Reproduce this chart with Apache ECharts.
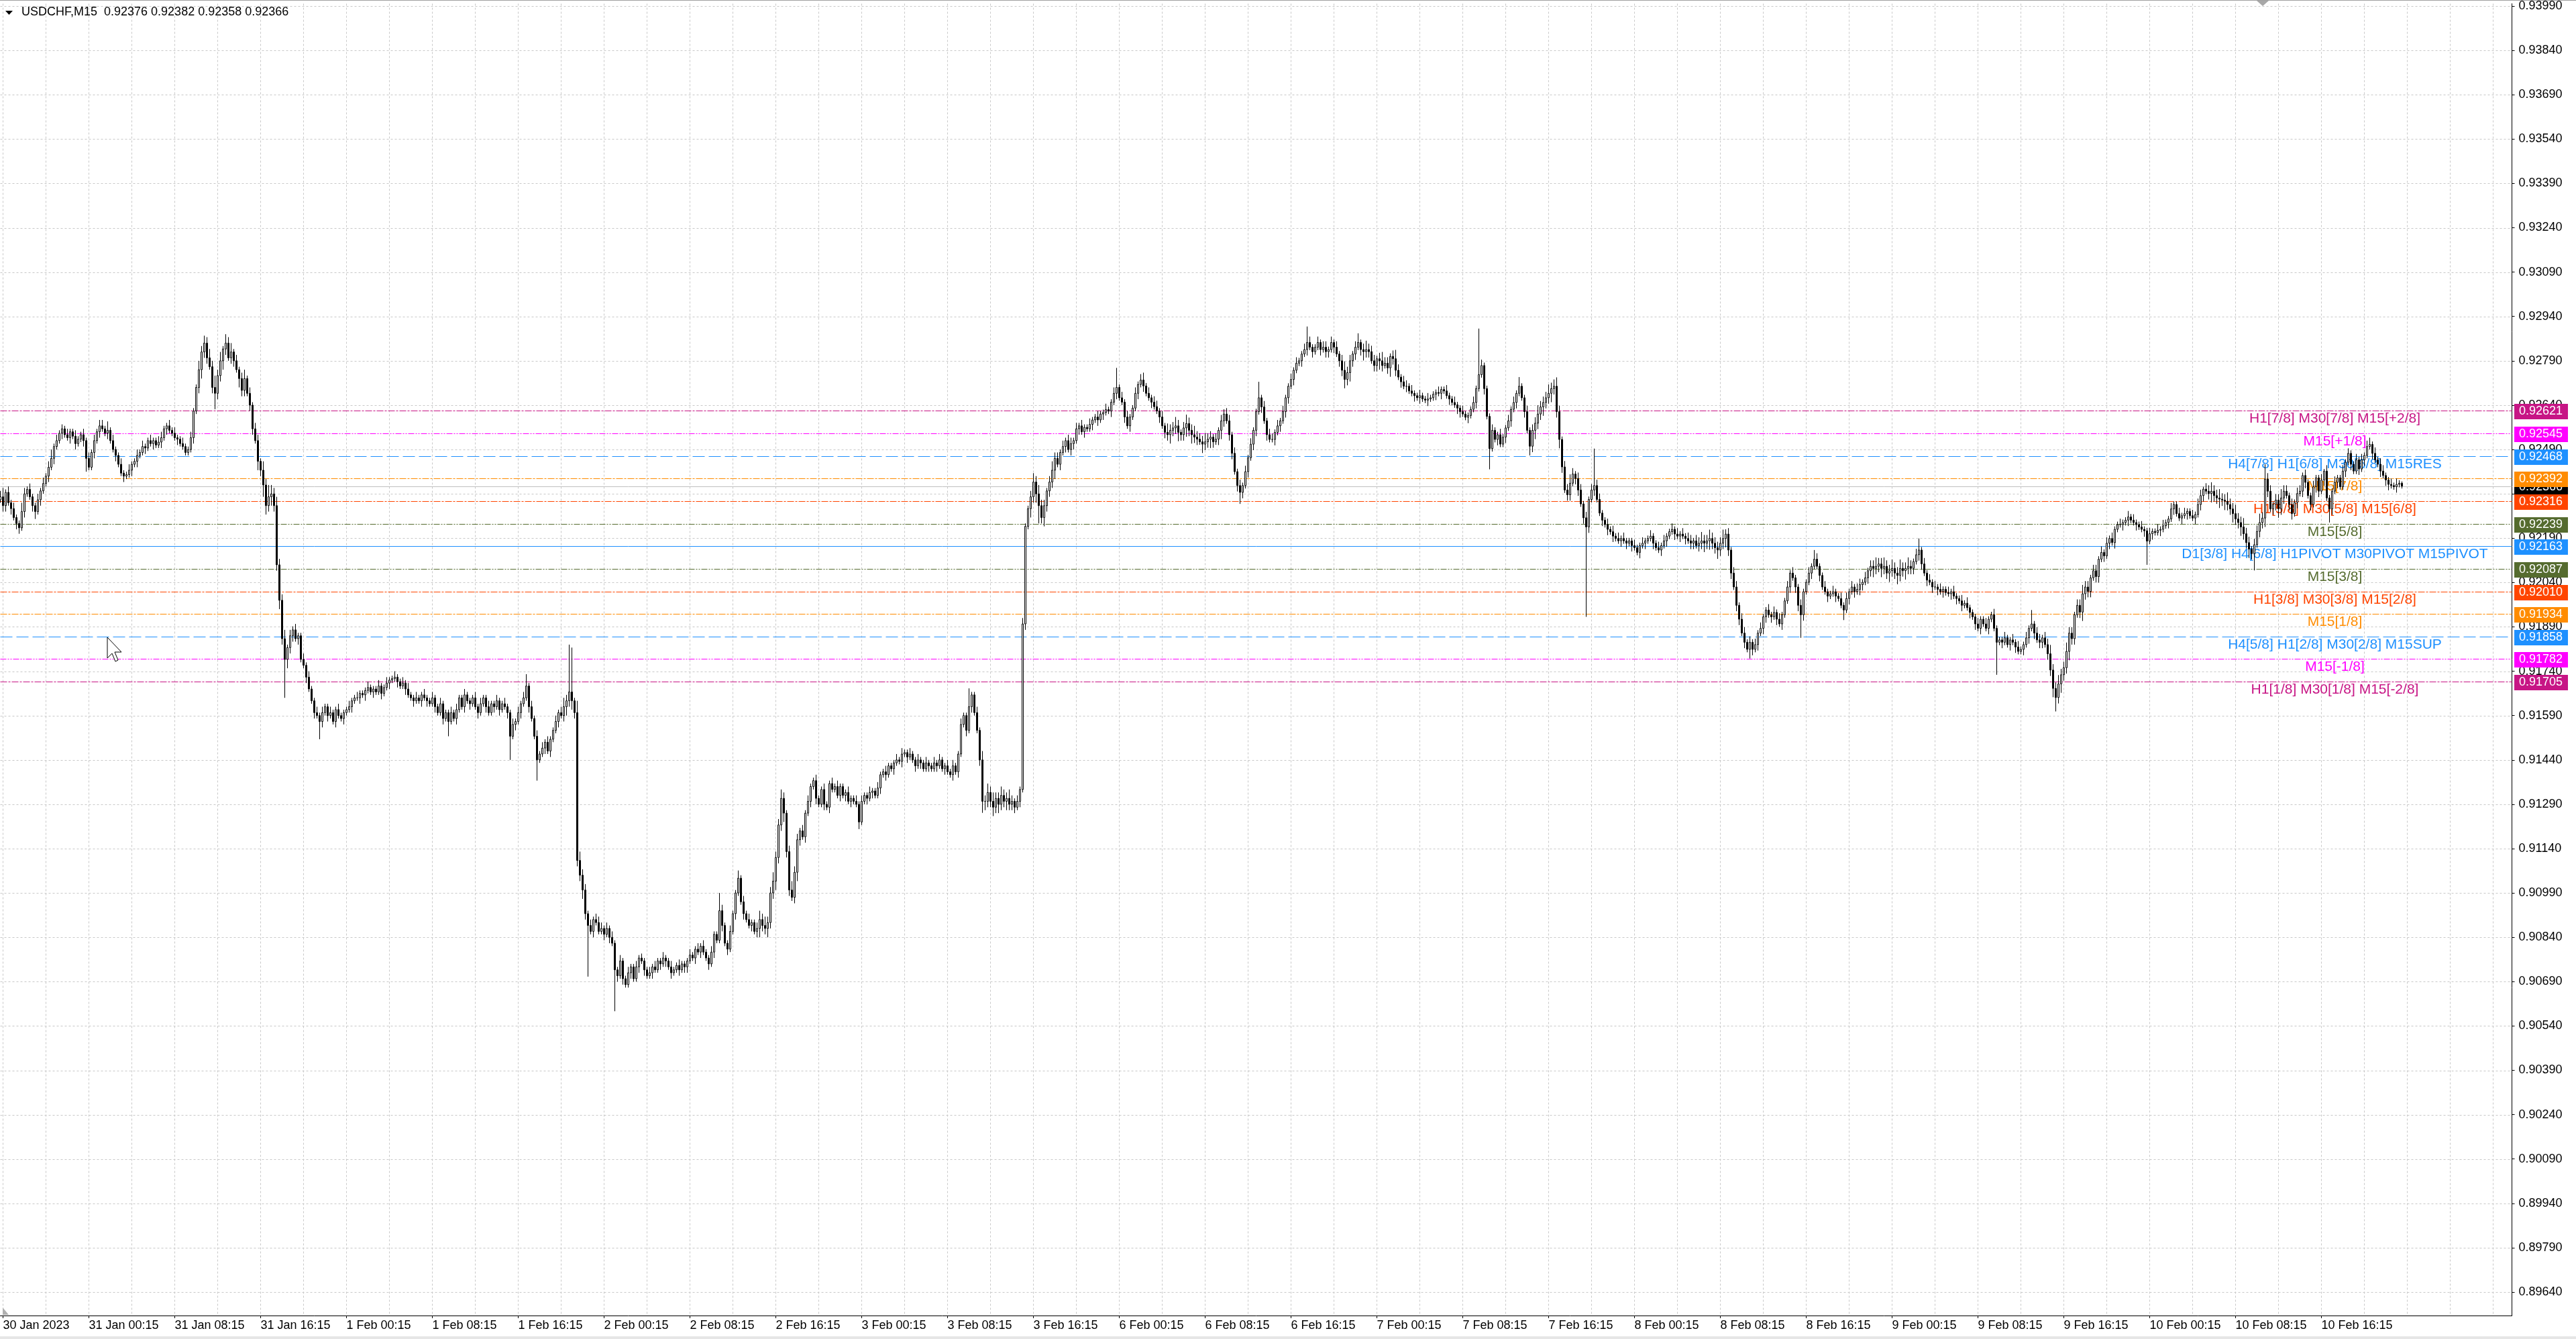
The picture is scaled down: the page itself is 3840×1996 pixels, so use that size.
<!DOCTYPE html>
<html><head><meta charset="utf-8">
<script src="https://cdn.jsdelivr.net/npm/echarts@6/dist/echarts.min.js"></script>
<style>html,body{margin:0;padding:0;background:#fff;overflow:hidden}#c{width:3840px;height:1996px}</style>
</head><body><div id="c"></div>
<script>
// ---------------- DATA ----------------
const SYMBOL = 'USDCHF,M15';
const BASE = 0.9;          // prices below are in points (1e-5) above BASE
const PT = 1e-5;
const FIRST_OPEN = 2320;
const closePts = [
2330,2300,2345,2310,2290,2260,2240,2225,2280,2340,
2355,2330,2300,2280,2320,2350,2375,2400,2430,2460,
2500,2520,2545,2560,2540,2530,2550,2535,2510,2525,
2540,2520,2460,2430,2480,2520,2550,2570,2560,2545,
2555,2520,2490,2470,2440,2410,2400,2405,2420,2440,
2450,2470,2480,2500,2495,2520,2510,2520,2505,2515,
2530,2560,2570,2555,2545,2530,2525,2510,2500,2480,
2490,2530,2620,2700,2760,2820,2850,2800,2770,2700,
2680,2740,2790,2830,2850,2800,2820,2790,2760,2730,
2690,2730,2680,2640,2560,2520,2450,2420,2370,2300,
2330,2340,2300,2100,1980,1850,1780,1820,1860,1880,
1850,1860,1780,1760,1720,1680,1640,1600,1590,1570,
1600,1620,1590,1600,1570,1610,1590,1580,1600,1610,
1620,1640,1650,1650,1665,1660,1675,1685,1670,1680,
1670,1690,1665,1685,1700,1710,1715,1720,1705,1690,
1700,1680,1660,1650,1640,1650,1640,1660,1650,1640,
1630,1650,1620,1600,1630,1580,1600,1570,1600,1580,
1610,1650,1620,1660,1640,1630,1650,1620,1600,1630,
1650,1620,1600,1630,1620,1640,1610,1630,1620,1600,
1520,1560,1570,1600,1630,1650,1690,1620,1580,1520,
1440,1460,1480,1500,1470,1510,1540,1570,1600,1590,
1620,1640,1670,1640,1600,1100,1050,1000,920,880,
860,900,890,860,870,850,870,840,820,730,
710,760,700,680,720,740,700,740,770,760,
730,710,720,740,730,760,750,770,760,740,
720,730,745,730,750,740,760,780,770,800,
790,810,790,770,750,790,850,830,930,880,
820,800,860,920,990,1040,960,920,900,880,
890,860,870,900,880,870,890,990,1030,1110,
1220,1310,1260,1130,1000,975,1060,1170,1200,1180,
1260,1300,1350,1370,1310,1290,1340,1290,1280,1360,
1340,1350,1320,1350,1320,1330,1300,1310,1300,1290,
1230,1300,1320,1310,1330,1335,1320,1345,1390,1400,
1390,1420,1410,1430,1440,1435,1460,1465,1450,1460,
1440,1420,1440,1430,1410,1430,1420,1410,1430,1420,
1440,1410,1420,1400,1390,1420,1400,1460,1560,1590,
1540,1620,1660,1600,1540,1440,1300,1300,1330,1300,
1280,1310,1290,1320,1300,1310,1290,1300,1280,1300,
1340,1900,2230,2290,2330,2380,2340,2300,2260,2300,
2350,2380,2420,2460,2440,2480,2500,2520,2490,2510,
2520,2560,2570,2550,2565,2560,2575,2590,2600,2590,
2610,2615,2625,2620,2650,2680,2700,2665,2650,2600,
2570,2600,2630,2680,2710,2725,2705,2680,2665,2650,
2635,2620,2600,2570,2548,2540,2555,2563,2570,2548,
2540,2563,2578,2555,2540,2532,2525,2516,2508,2516,
2525,2532,2516,2525,2555,2587,2610,2587,2540,2477,
2415,2368,2345,2368,2415,2462,2508,2555,2618,2665,
2634,2587,2540,2524,2524,2548,2570,2587,2618,2665,
2704,2727,2758,2782,2790,2813,2828,2852,2836,2821,
2836,2852,2828,2836,2821,2828,2852,2836,2813,2790,
2758,2727,2750,2790,2813,2836,2852,2828,2821,2828,
2821,2790,2774,2797,2790,2774,2782,2766,2805,2797,
2758,2735,2719,2704,2704,2688,2680,2672,2665,2672,
2661,2657,2661,2665,2677,2683,2680,2693,2688,2672,
2661,2649,2641,2630,2618,2610,2599,2605,2626,2649,
2696,2743,2774,2696,2602,2493,2555,2524,2540,2508,
2532,2563,2587,2626,2649,2680,2704,2665,2618,2555,
2501,2555,2579,2610,2634,2649,2665,2680,2696,2704,
2618,2524,2431,2353,2337,2376,2407,2392,2353,2306,
2259,2228,2321,2353,2368,2321,2275,2251,2236,2220,
2212,2197,2189,2181,2189,2181,2173,2181,2165,2158,
2142,2165,2173,2181,2189,2197,2173,2158,2150,2165,
2181,2197,2212,2220,2204,2197,2204,2197,2189,2181,
2173,2181,2165,2173,2181,2173,2181,2189,2173,2158,
2150,2173,2189,2204,2150,2072,2025,1963,1916,1869,
1838,1814,1838,1814,1830,1869,1885,1924,1947,1931,
1924,1939,1916,1900,1931,1978,2025,2072,2056,2025,
1963,1931,2009,2041,2072,2095,2119,2095,2064,2025,
2009,1994,2002,2009,1994,1986,1963,1947,1986,2009,
2025,2009,2017,2033,2041,2056,2080,2095,2088,2095,
2103,2088,2095,2072,2080,2088,2072,2064,2088,2080,
2088,2095,2088,2111,2134,2150,2103,2072,2048,2041,
2025,2025,2017,2009,2017,2006,2002,2009,1994,1986,
1978,1963,1970,1955,1939,1924,1900,1885,1916,1900,
1885,1916,1931,1885,1838,1846,1838,1853,1830,1846,
1838,1822,1807,1814,1830,1853,1885,1900,1869,1846,
1838,1853,1830,1799,1744,1682,1651,1697,1728,1752,
1807,1869,1850,1931,1963,1940,2002,2025,2010,2056,
2080,2060,2119,2142,2130,2173,2189,2175,2220,2236,
2236,2243,2251,2262,2251,2243,2236,2228,2220,2215,
2180,2205,2213,2209,2217,2220,2232,2243,2255,2289,
2304,2273,2258,2266,2273,2281,2266,2258,2270,2304,
2334,2356,2349,2341,2349,2334,2326,2322,2319,2315,
2304,2289,2273,2255,2243,2228,2205,2175,2153,2138,
2168,2213,2243,2258,2390,2349,2289,2304,2319,2289,
2326,2349,2334,2304,2273,2311,2341,2349,2402,2379,
2334,2304,2364,2394,2349,2387,2417,2326,2289,2349,
2379,2394,2364,2417,2447,2477,2440,2417,2455,2424,
2455,2470,2500,2507,2477,2455,2440,2417,2402,2387,
2372,2368,2364,2372,2376,2366
];
// upper / lower wick beyond the body, in pips (10 points)
const upWickPips = [
2,3,1,2,1,2,1,1,3,2,1,2,1,1,2,1,2,1,2,3,1,2,1,2,1,2,1,1,2,1,1,2,
1,2,1,2,1,1,2,1,3,1,2,1,1,2,1,1,2,1,1,2,1,2,1,1,2,1,1,2,2,1,1,2,
1,2,1,1,2,1,1,2,1,1,3,2,1,2,3,2,4,2,3,1,2,2,3,1,2,1,2,3,1,2,1,2,
2,1,3,2,4,3,2,3,2,2,3,1,2,1,2,1,1,2,1,2,1,1,2,1,2,1,1,2,1,1,2,1,
1,1,2,1,1,2,1,1,1,2,1,1,1,2,1,1,2,1,1,2,1,1,2,1,2,1,1,2,1,1,2,1,
1,2,1,1,2,1,1,1,2,1,2,1,1,2,1,1,1,2,1,2,1,1,2,1,1,2,1,1,2,1,1,2,
1,2,1,2,1,1,2,1,2,1,2,1,2,1,1,2,1,2,3,2,1,2,1,4,3,2,2,1,2,1,2,2,
2,1,2,1,2,1,1,2,1,1,2,1,1,2,1,2,1,1,2,1,2,1,1,2,1,1,2,1,1,2,1,1,
1,2,1,1,2,1,2,1,1,2,1,1,1,2,1,1,2,1,1,2,1,2,1,2,1,1,2,3,2,3,2,2,
3,2,2,3,2,1,2,3,2,2,1,2,1,2,1,1,2,1,1,2,1,1,2,1,2,1,1,1,2,1,1,2,
1,2,1,1,2,1,1,2,1,1,2,1,1,1,2,1,2,1,1,2,1,1,2,1,1,2,1,1,2,1,2,1,
1,2,1,2,1,1,2,1,1,2,1,1,2,1,3,2,3,2,3,2,2,3,2,2,3,2,1,2,1,2,1,1,
2,3,2,3,2,2,1,2,3,2,2,1,2,1,2,2,1,2,1,2,1,1,2,1,1,2,1,1,2,1,1,2,
1,1,2,1,2,1,1,2,1,2,1,1,2,1,2,2,1,2,1,3,2,2,3,2,1,2,3,2,2,3,2,2,
2,3,2,2,1,2,1,2,3,2,2,1,2,1,2,1,2,1,2,1,1,2,1,2,1,2,2,1,2,1,2,1,
1,2,1,2,1,1,2,1,2,1,1,2,1,2,2,1,2,1,2,1,2,3,2,2,1,2,2,1,2,3,2,2,
2,1,2,3,2,2,1,2,3,2,1,2,2,1,2,1,1,2,1,1,2,1,1,1,2,1,1,2,1,1,2,1,
1,2,1,1,1,2,1,1,2,1,1,1,2,1,1,2,1,1,2,1,2,1,2,1,1,2,1,2,2,3,2,2,
2,3,2,2,3,2,1,2,2,3,2,1,2,2,1,2,1,2,1,2,2,1,1,2,1,2,1,2,1,2,1,1,
1,2,1,1,2,1,1,2,1,1,2,1,2,1,1,2,1,2,1,2,1,2,2,1,2,2,3,2,2,3,2,2,
2,2,3,2,2,1,2,2,1,2,2,1,2,1,2,1,2,1,1,2,1,2,1,2,1,1,2,1,2,1,1,2,
1,1,2,1,1,2,1,1,2,1,1,2,1,1,2,1,2,1,2,1,2,2,1,2,1,2,2,3,2,2,3,2,
2,3,2,2,3,2,2,3,2,1,2,2,1,2,1,2,1,2,1,2,1,1,2,1,2,1,1,2,1,2,1,1,
1,2,1,1,2,1,1,2,1,1,1,2,1,1,2,1,2,1,1,2,1,2,1,2,2,1,2,2,3,2,2,3,
2,2,3,2,2,1,2,2,3,2,2,1,2,2,1,2,1,2,1,2,1,1,2,1,1,2,1,2,1,1,2,1,
1,2,1,1,2,1,2,1,1,2,1,1,2,1,2,1,1,2,1,2,2,1,2,2,3,2,2,3,2,2,3,2,
2,3,2,2,3,2,2,1,2,2,3,2,1,2,2,1,2,2,3,2,2,1,2,1,2,2,1,2,1,1,2,1,
1,2,1,2,1,1,2,1,1,2,1,2,1,1,2,1,2,1,2,2,1,2,1,2,2,1,1,2,1,2,1,1
];
const dnWickPips = [
1,2,2,1,2,1,2,1,1,2,1,1,2,1,1,2,1,1,2,1,2,1,1,2,1,1,2,1,2,1,1,2,
2,1,1,2,1,2,1,1,2,1,1,2,1,1,2,1,1,2,1,2,1,1,2,1,1,2,1,1,2,1,2,1,
1,1,2,1,1,2,1,1,2,1,2,3,2,2,1,2,3,2,2,3,2,1,2,2,1,3,2,2,1,2,2,1,
3,2,4,3,2,3,2,2,3,2,2,3,2,2,1,2,1,1,2,1,1,2,1,1,2,1,2,1,1,2,1,1,
2,1,1,2,1,1,2,1,2,1,1,2,1,1,2,1,1,2,1,1,2,1,1,2,1,1,2,1,1,2,1,2,
1,1,2,1,1,2,1,2,1,1,2,1,1,2,1,2,1,1,2,1,1,2,1,1,2,1,2,1,1,2,1,1,
2,1,2,1,1,2,1,1,2,1,1,2,1,2,1,1,2,1,2,3,2,3,2,2,2,3,2,2,1,2,1,1,
1,2,1,2,1,1,2,1,2,1,1,2,1,1,2,1,2,1,1,2,1,1,2,1,2,1,2,1,1,2,1,2,
2,1,1,2,1,2,1,1,2,1,2,1,1,2,1,2,1,1,2,1,1,2,1,1,2,1,2,3,2,2,3,2,
2,3,2,2,3,2,2,1,2,3,2,1,2,1,2,1,2,1,1,2,1,2,1,1,1,2,1,2,1,2,1,1,
2,1,1,2,1,2,1,1,2,1,2,1,1,2,1,1,2,1,2,1,1,2,1,2,1,1,2,1,1,2,1,1,
2,1,1,2,1,2,1,1,2,1,2,1,1,2,2,3,2,2,3,2,3,2,2,3,2,2,2,1,2,1,2,1,
3,2,3,2,2,3,2,2,2,3,1,2,1,2,1,2,2,1,2,1,2,1,1,2,1,2,1,2,1,1,2,1,
2,1,1,2,1,2,1,1,2,1,2,1,1,2,1,1,2,1,2,2,3,2,2,3,2,2,3,2,3,2,2,1,
3,2,2,3,2,1,2,3,2,1,2,2,1,2,1,2,1,2,1,2,2,1,2,1,2,1,1,2,1,2,1,2,
2,1,2,1,1,2,1,2,1,2,1,1,2,1,2,2,1,2,1,2,2,3,2,3,2,2,1,2,3,2,2,1,
2,2,3,2,1,2,3,2,2,1,2,1,2,1,1,2,1,2,1,1,2,1,1,2,1,2,1,1,2,1,1,2,
2,1,1,2,1,1,2,1,1,2,1,2,1,1,2,1,1,2,1,2,1,2,1,1,2,1,2,2,3,2,2,3,
2,2,3,2,2,3,2,1,2,2,1,2,2,1,2,1,2,1,2,1,1,2,1,2,1,2,1,1,2,1,2,1,
2,1,1,2,1,2,1,1,2,1,1,2,1,2,1,1,2,1,2,1,2,1,2,2,1,2,2,3,2,3,2,2,
3,2,2,3,2,2,1,2,2,1,2,1,2,2,1,2,1,2,2,1,2,1,2,1,2,1,1,2,1,2,2,1,
2,1,1,2,1,1,2,1,1,2,1,1,2,1,1,2,1,2,1,2,1,2,2,1,2,2,3,2,2,3,2,2,
3,2,2,3,2,2,3,2,2,2,1,2,2,1,2,1,2,1,2,1,2,1,1,2,1,2,1,2,1,1,2,1,
2,1,2,1,1,2,1,1,2,1,2,1,1,2,1,2,1,1,2,1,2,1,2,1,2,2,1,2,2,3,2,2,
3,2,2,3,2,2,1,2,3,2,2,2,1,2,2,1,2,1,2,1,2,1,1,2,1,2,1,1,2,1,1,2,
2,1,2,1,1,2,1,1,2,1,2,1,1,2,1,2,1,1,2,1,2,2,1,2,3,2,2,3,2,3,2,2,
3,2,2,3,2,2,3,2,2,1,2,2,3,2,1,2,2,3,2,2,1,2,2,1,2,1,2,2,1,2,1,2,
2,1,2,1,1,2,1,2,1,1,2,1,2,1,1,2,1,2,1,1,2,1,1,2,1,2,2,1,1,2,1,1
];
// long wicks (bar index -> points)
const spikeHigh = {23:2575,37:2590,76:2875,84:2880,109:1892,147:1740,196:1730,212:1830,213:1820,239:785,268:990,275:1066,291:1340,303:1380,361:1682,416:2766,426:2750,456:2626,469:2719,487:2906,506:2883,551:2899,566:2735,579:2727,594:2493,643:2220,676:2150,715:2189,757:1947,793:2282,821:2364,844:2440,866:2424,875:2494,883:2530,895:2382};
const spikeLow = {7:2205,13:2255,32:2415,69:2470,80:2626,106:1650,119:1510,167:1520,190:1440,200:1370,219:707,229:590,295:963,320:1206,366:1261,387:2240,462:2306,555:2423,570:2470,591:1924,652:1783,671:1853,687:1913,744:1728,766:1604,800:2100,840:2081,868:2243,895:2358};

const xTickLabels = ["30 Jan 2023","31 Jan 00:15","31 Jan 08:15","31 Jan 16:15","1 Feb 00:15","1 Feb 08:15","1 Feb 16:15","2 Feb 00:15","2 Feb 08:15","2 Feb 16:15","3 Feb 00:15","3 Feb 08:15","3 Feb 16:15","6 Feb 00:15","6 Feb 08:15","6 Feb 16:15","7 Feb 00:15","7 Feb 08:15","7 Feb 16:15","8 Feb 00:15","8 Feb 08:15","8 Feb 16:15","9 Feb 00:15","9 Feb 08:15","9 Feb 16:15","10 Feb 00:15","10 Feb 08:15","10 Feb 16:15"];
const yTicks = [0.89640,0.89790,0.89940,0.90090,0.90240,0.90390,0.90540,0.90690,0.90840,0.90990,0.91140,0.91290,0.91440,0.91590,0.91740,0.91890,0.92040,0.92190,0.92340,0.92490,0.92640,0.92790,0.92940,0.93090,0.93240,0.93390,0.93540,0.93690,0.93840,0.93990];
const Y_MIN = 0.895607, Y_MAX = 0.939980;

const levelPrices = [0.92621,0.92545,0.92468,0.92392,0.92316,0.92239,0.92163,0.92087,0.92010,0.91934,0.91858,0.91782,0.91705];
const levelNames = ["H1[7/8] M30[7/8] M15[+2/8]","M15[+1/8]","H4[7/8] H1[6/8] M30[6/8] M15RES","M15[7/8]","H1[5/8] M30[5/8] M15[6/8]","M15[5/8]","D1[3/8] H4[6/8] H1PIVOT M30PIVOT M15PIVOT","M15[3/8]","H1[3/8] M30[3/8] M15[2/8]","M15[1/8]","H4[5/8] H1[2/8] M30[2/8] M15SUP","M15[-1/8]","H1[1/8] M30[1/8] M15[-2/8]"];

// ---------------- STYLE ----------------
const levelColors = ['#C71585','#FF00FF','#1E90FF','#FF8C00','#FF4500','#556B2F','#1E90FF','#556B2F','#FF4500','#FF8C00','#1E90FF','#FF00FF','#C71585'];
const DASHDOT = [10,2,3,2], DASHDOTDOT = [9,2,2,2,2,2], LONGDASH = [18,6];
const levelDash = [DASHDOT,DASHDOTDOT,LONGDASH,DASHDOT,DASHDOT,DASHDOTDOT,null,DASHDOTDOT,DASHDOT,DASHDOT,LONGDASH,DASHDOTDOT,DASHDOT];
const FONT = '"Liberation Sans", Arial, sans-serif';
const N_CAT = 937;            // bars + empty right shift
const LABEL_CAT = 870;        // where level captions are centred

// ---------------- BUILD ----------------
const toPrice = v => +(BASE + v * PT).toFixed(5);
const ohlc = [];
for (let i = 0; i < closePts.length; i++) {
  const o = i === 0 ? FIRST_OPEN : closePts[i - 1];
  const c = closePts[i];
  const hi = Math.max(spikeHigh[i] !== undefined ? spikeHigh[i] : Math.max(o, c) + upWickPips[i] * 10, Math.max(o, c));
  const lo = Math.min(spikeLow[i] !== undefined ? spikeLow[i] : Math.min(o, c) - dnWickPips[i] * 10, Math.min(o, c));
  ohlc.push([toPrice(o), toPrice(c), toPrice(lo), toPrice(hi)]);
}
const cats = [];
{
  let t = Date.UTC(2023, 0, 30, 16, 0);
  for (let i = 0; i < N_CAT; i++) {
    cats.push(new Date(t).toISOString().slice(0, 16).replace('T', ' '));
    t += 15 * 60000;
    if (new Date(t).getUTCDay() === 6) t += 2 * 86400000;
  }
}
const NBARS = closePts.length;
const last = ohlc[NBARS - 1];
const bid = last[1];

// rows for the level layer: [x, price, colour index] ; -1 = bid line
const levelRows = [[0, bid, -1]].concat(levelPrices.map((p, k) => [0, p, k]));

const chart = echarts.init(document.getElementById('c'), null, {renderer: 'canvas', width: 3840, height: 1996});
const xShow = i => i % 32 === 1 && i < NBARS;
const crisp = y => Math.round(y) + 0.5;

chart.setOption({
  animation: false,
  backgroundColor: '#ffffff',
  grid: {left: 0.5, right: 95.5, top: 2, bottom: 35, containLabel: false},
  xAxis: {
    type: 'category', data: cats, boundaryGap: false,
    axisLine: {lineStyle: {color: '#000', width: 1}},
    axisTick: {show: true, interval: xShow, length: 4, lineStyle: {color: '#000'}},
    axisLabel: {interval: xShow, formatter: (v, i) => xTickLabels[(i - 1) / 32] || '', align: 'left', margin: 6, color: '#000', fontFamily: FONT, fontSize: 18, hideOverlap: false},
    splitLine: {show: true, interval: i => i % 16 === 1, lineStyle: {color: '#C8C8C8', type: [3, 3], width: 1}}
  },
  yAxis: {
    type: 'value', position: 'right', min: Y_MIN, max: Y_MAX,
    axisLine: {show: true, lineStyle: {color: '#000', width: 1}},
    axisTick: {show: true, customValues: yTicks, length: 4, lineStyle: {color: '#000'}},
    axisLabel: {customValues: yTicks, formatter: v => v.toFixed(5), margin: 10, color: '#000', fontFamily: FONT, fontSize: 18},
    splitLine: {show: false}
  },
  series: [
    {type: 'custom', name: 'grid', z: 1, silent: true, clip: false,
     data: yTicks.map(v => [0, v]), encode: {x: 0, y: 1},
     renderItem: (params, api) => {
       const cs = params.coordSys;
       const y = crisp(api.coord([0, api.value(1)])[1]);
       return {type: 'line', shape: {x1: cs.x, y1: y, x2: cs.x + cs.width, y2: y},
               style: {stroke: '#C8C8C8', lineWidth: 1, lineDash: [3, 3]}};
     }},
    {type: 'custom', name: 'levels', z: 2, silent: true, clip: false,
     data: levelRows, encode: {x: 0, y: 1},
     renderItem: (params, api) => {
       const cs = params.coordSys;
       const price = api.value(1);
       const k = api.value(2);
       const y = crisp(api.coord([0, price])[1]);
       const col = k < 0 ? '#000000' : levelColors[k];
       const lineCol = k < 0 ? '#C0C0C0' : levelColors[k];
       const dash = k < 0 ? null : levelDash[k];
       const right = cs.x + cs.width;
       const children = [
         {type: 'line', shape: {x1: cs.x, y1: y, x2: right, y2: y}, style: {stroke: lineCol, lineWidth: 1, lineDash: dash}},
         {type: 'rect', shape: {x: Math.round(right) + 3, y: Math.round(y) - 11, width: 80, height: 23}, style: {fill: col}},
         {type: 'text', style: {text: price.toFixed(5), x: Math.round(right) + 10, y: y + 1, fill: '#fff', font: '18px ' + FONT, align: 'left', verticalAlign: 'middle'}}
       ];
       if (k >= 0) {
         const lx = api.coord([LABEL_CAT, price])[0];
         children.push({type: 'text', style: {text: levelNames[k], x: lx, y: y + 12, fill: levelColors[k], font: '21px ' + FONT, align: 'center', verticalAlign: 'middle'}});
       }
       return {type: 'group', children: children};
     }},
    {type: 'candlestick', name: SYMBOL, data: ohlc, z: 5, large: false, barWidth: 2, clip: false,
     itemStyle: {color: '#ffffff', color0: '#000000', borderColor: '#000000', borderColor0: '#000000', borderWidth: 1}}
  ],
  graphic: [
    {type: 'rect', shape: {x: 0, y: 0, width: 3840, height: 1}, style: {fill: '#A0A0A0'}, z: 100},
    {type: 'rect', shape: {x: 0, y: 1992, width: 3840, height: 4}, style: {fill: '#E6E6E6'}, z: 100},
    {type: 'polygon', shape: {points: [[8, 16], [19, 16], [13.5, 22]]}, style: {fill: '#000'}, z: 100},
    {type: 'text', x: 32, y: 9, style: {text: SYMBOL + '  ' + last[0].toFixed(5) + ' ' + last[3].toFixed(5) + ' ' + last[2].toFixed(5) + ' ' + last[1].toFixed(5), font: '18px ' + FONT, fill: '#000'}, z: 100},
    {type: 'polygon', shape: {points: [[3364, 1], [3382, 1], [3373, 9]]}, style: {fill: '#A8A8A8'}, z: 100},
    {type: 'polygon', shape: {points: [[4, 1949], [4, 1960], [13, 1960]]}, style: {fill: '#B0B0B0'}, z: 100},
    {type: 'polygon', shape: {points: [[160, 950], [160, 981], [167, 974], [172, 986], [176, 984], [171, 972], [181, 972]]}, style: {fill: '#fff', stroke: '#000', lineWidth: 1}, z: 100}
  ]
});
</script>
</body></html>
